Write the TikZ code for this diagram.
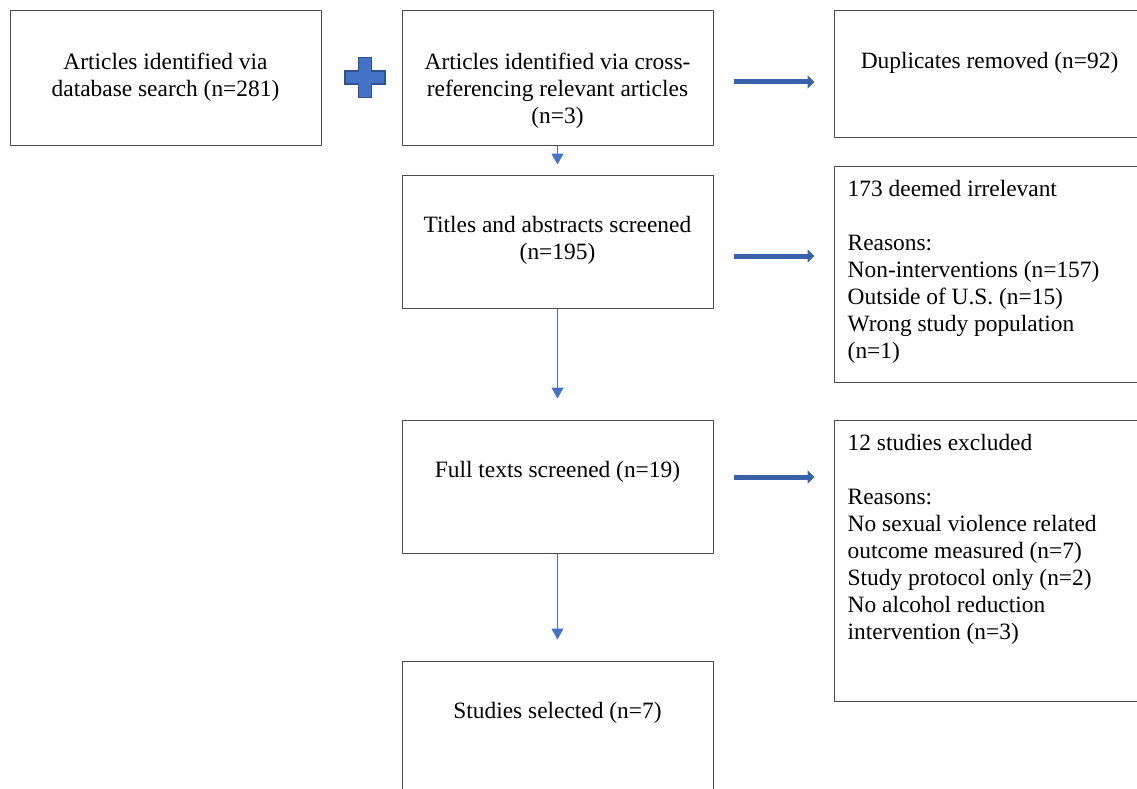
\documentclass[tikz,border=0pt]{standalone}
\usepackage{fontspec}
\setmainfont{Liberation Serif}
\usetikzlibrary{positioning,arrows.meta}
\definecolor{flowblue}{RGB}{68,114,196}
\definecolor{flowdark}{RGB}{47,82,143}
\definecolor{flowmid}{RGB}{58,98,172}

\begin{document}
\begin{tikzpicture}[x=1pt, y=-1pt,
  box/.style={draw=black!70, line width=1pt, rectangle, minimum width=311pt, inner sep=0pt},
  txt/.style={inner sep=0pt, align=center, font=\fontsize{23.4}{27}\selectfont},
  ltxt/.style={inner sep=0pt, align=left, font=\fontsize{23.4}{27}\selectfont},
  down/.style={draw=flowblue, line width=1pt, -{Triangle[width=12pt,length=11pt]}},
  bigarrow/.style={draw=flowmid, line width=5pt, -{Triangle[width=13pt,length=7pt]}, shorten <=20pt, shorten >=19pt},
  plusmark/.style={fill=flowblue, draw=flowdark, line width=1.5pt}
]
\useasboundingbox (0,0) rectangle (1137,789);
\clip (0,0) rectangle (1137,789);

% boxes
\node[box, minimum height=134pt] (a) at (165.5,78) {};
\node[box, minimum height=134pt] (b) at (557.5,78) {};
\node[box, minimum height=126pt] (c) at (989.5,74) {};
\node[box, minimum height=133pt] (d) at (557.5,241.5) {};
\node[box, minimum height=216pt] (e) at (989.5,274) {};
\node[box, minimum height=133pt] (f) at (557.5,486.5) {};
\node[box, minimum height=281pt] (g) at (989.5,560.5) {};
\node[box, minimum height=134pt] (h) at (557.5,728) {};

% box texts
\node[txt, below=42pt of a.north] (at) {Articles identified via\\database search (n=281)};
\node[txt, below=42pt of b.north] (bt) {Articles identified via cross-\\referencing relevant articles\\(n=3)};
\node[txt, below=42pt of c.north] (ct) {Duplicates removed (n=92)};
\node[txt, below=42pt of d.north] (dt) {Titles and abstracts screened\\(n=195)};
\node[txt, below=42pt of f.north] (ft) {Full texts screened (n=19)};
\node[txt, below=42pt of h.north] (ht) {Studies selected (n=7)};
\node[ltxt, below right=15pt and 14pt of e.north west] (et) {173 deemed irrelevant\\[27pt]Reasons:\\Non-interventions (n=157)\\Outside of U.S. (n=15)\\Wrong study population\\(n=1)};
\node[ltxt, below right=15pt and 14pt of g.north west] (gt) {12 studies excluded\\[27pt]Reasons:\\No sexual violence related\\outcome measured (n=7)\\Study protocol only (n=2)\\No alcohol reduction\\intervention (n=3)};

% plus sign between the two sources
\coordinate (plus) at (365,77.5);
\begin{scope}[shift={(plus)}]
  \filldraw[plusmark] (-6.5,-20) -- (6.5,-20) -- (6.5,-6.5) -- (20,-6.5) -- (20,6.5) -- (6.5,6.5)
    -- (6.5,20) -- (-6.5,20) -- (-6.5,6.5) -- (-20,6.5) -- (-20,-6.5) -- (-6.5,-6.5) -- cycle;
\end{scope}

% flow
\draw[down, shorten >=10pt] (b) -- (d);
\draw[down, shorten >=21pt] (d) -- (f);
\draw[down, shorten >=21pt] (f) -- (h);

% exclusions
\draw[bigarrow] ([yshift=-4pt]b.east) -- ([yshift=-4pt]b.east -| c.west);
\draw[bigarrow] ([yshift=-14.5pt]d.east) -- ([yshift=-14.5pt]d.east -| e.west);
\draw[bigarrow] ([yshift=9.5pt]f.east) -- ([yshift=9.5pt]f.east -| g.west);
\end{tikzpicture}
\end{document}
